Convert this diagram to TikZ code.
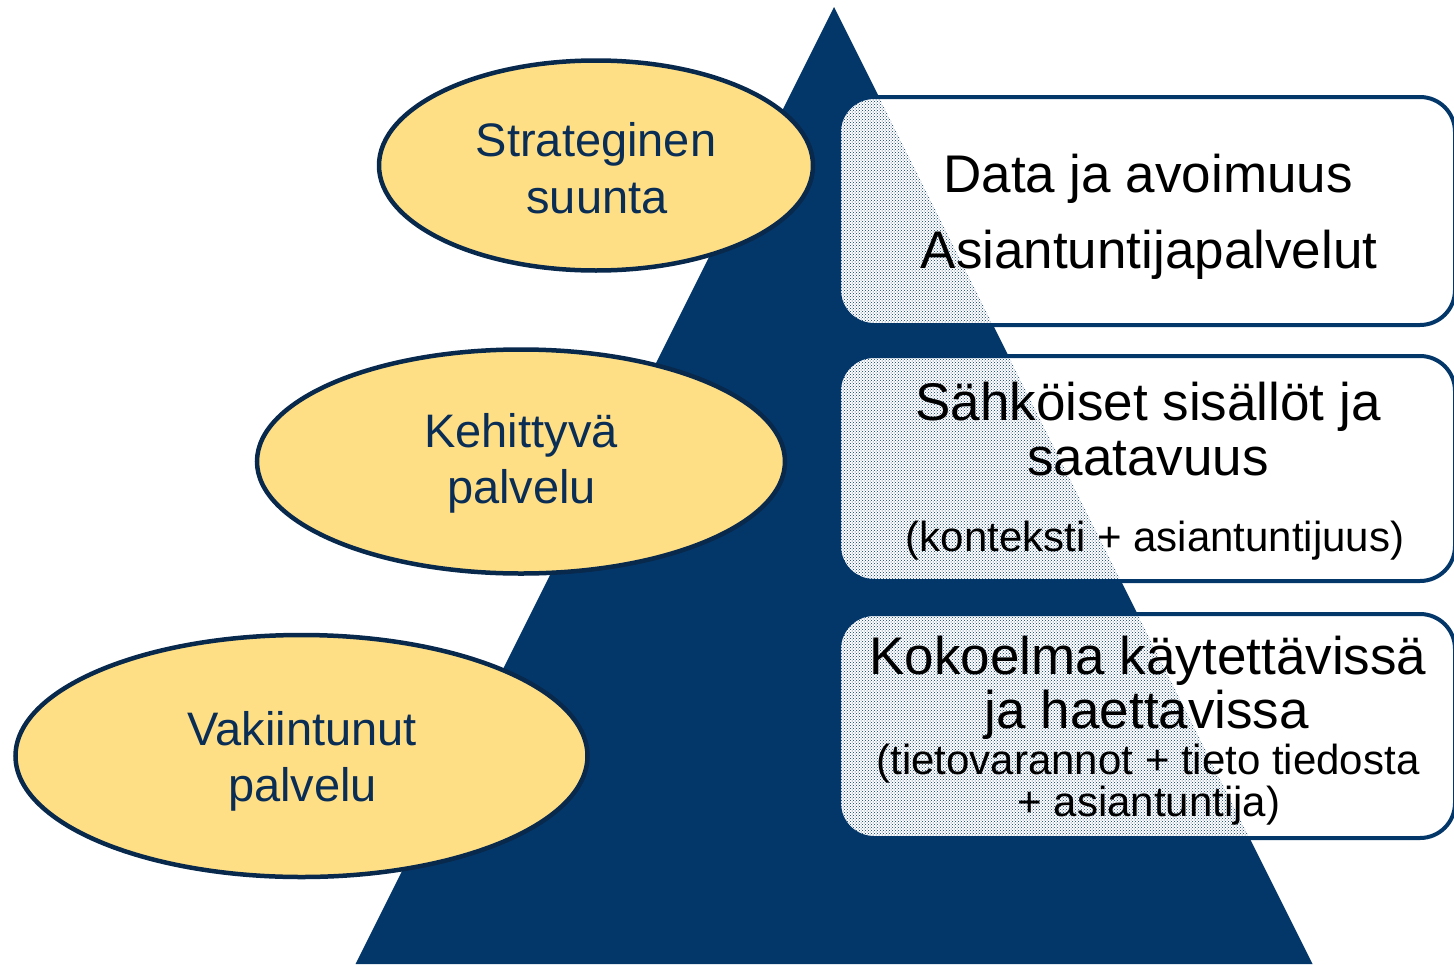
\documentclass[tikz,border=0pt]{standalone}
\usepackage{fontspec}
\setmainfont{Liberation Sans}
\usetikzlibrary{shapes.geometric,patterns}
\definecolor{navy}{RGB}{3,55,106}
\definecolor{edgec}{RGB}{8,40,76}
\definecolor{ytext}{RGB}{10,45,85}
\definecolor{yfill}{RGB}{254,223,134}
\tikzset{
  ell/.style={ellipse, draw=edgec, line width=4.5pt, fill=yfill, inner sep=0pt, outer sep=0pt},
  boxst/.style={rectangle, rounded corners=35pt, draw=navy, line width=4pt, fill=white, inner sep=0pt, outer sep=0pt},
  dots/.style={pattern=crosshatch dots, pattern color=navy, rounded corners=35pt},
  bigtxt/.style={font=\fontsize{53}{60}\selectfont, text=black, inner sep=0pt, anchor=base},
  smalltxt/.style={font=\fontsize{42}{48}\selectfont, text=black, inner sep=0pt, anchor=base},
  elltxt/.style={font=\fontsize{47}{54}\selectfont, text=ytext, inner sep=0pt, anchor=base}
}
\begin{document}
\begin{tikzpicture}[x=1pt,y=-1pt]
\useasboundingbox (0,0) rectangle (1454,964);
\coordinate (apex) at (834,7);
\coordinate (br) at (1312.5,964);
\coordinate (bl) at (355.5,964);
\fill[navy] (apex) -- (br) -- (bl) -- cycle;

% ellipses
\node[ell, minimum width=434pt, minimum height=210pt] (e1) at (596,165.5) {};
\node[ell, minimum width=528pt, minimum height=224pt] (e2) at (521,461.5) {};
\node[ell, minimum width=572pt, minimum height=242pt] (e3) at (301.5,756) {};

% boxes
\node[boxst, minimum width=616pt, minimum height=228pt] (b1) at (1147,211) {};
\node[boxst, minimum width=616pt, minimum height=225pt] (b2) at (1147,468.5) {};
\node[boxst, minimum width=616pt, minimum height=224pt] (b3) at (1147,726) {};
\begin{scope}
  \clip (apex) -- (br) -- (bl) -- cycle;
  \fill[dots] (b1.south west) rectangle (b1.north east);
  \fill[dots] (b2.south west) rectangle (b2.north east);
  \fill[dots] (b3.south west) rectangle (b3.north east);
\end{scope}

% ellipse texts
\node[elltxt] (e1a) at (596,156) {Strateginen};
\node[elltxt] (e1b) at (597,213) {suunta};
\node[elltxt] (e2a) at (521,447) {Kehittyvä};
\node[elltxt] (e2b) at (521.5,503) {palvelu};
\node[elltxt] (e3a) at (302.5,745) {Vakiintunut};
\node[elltxt] (e3b) at (302.5,801) {palvelu};

% box texts
\node[bigtxt] (b1a) at (1148,192) {Data ja avoimuus};
\node[bigtxt] (b1b) at (1149,268) {Asiantuntijapalvelut};
\node[bigtxt] (b2a) at (1148,420) {Sähköiset sisällöt ja};
\node[bigtxt] (b2b) at (1148,475) {saatavuus};
\node[smalltxt] (b2c) at (1155,551) {(konteksti + asiantuntijuus)};
\node[bigtxt] (b3a) at (1148,674) {Kokoelma käytettävissä};
\node[bigtxt] (b3b) at (1147,728) {ja haettavissa};
\node[smalltxt] (b3c) at (1148,774) {(tietovarannot + tieto tiedosta};
\node[smalltxt] (b3d) at (1149,816) {+ asiantuntija)};
\end{tikzpicture}
\end{document}
